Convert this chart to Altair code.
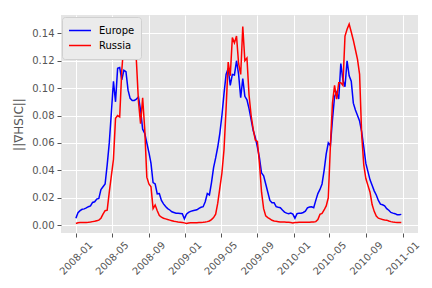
import altair as alt
import pandas as pd

start_date = "2008-01-01"
n_weeks = 157

europe = [
    0.0050, 0.0090, 0.0105, 0.0115, 0.0118, 0.0125, 0.0134, 0.0140, 0.0165, 0.0170,
    0.0190, 0.0195, 0.0260, 0.0280, 0.0300, 0.0440, 0.0600, 0.0820, 0.1050, 0.0900,
    0.1145, 0.1150, 0.1060, 0.1130, 0.1120, 0.0985, 0.0925, 0.0910, 0.0910, 0.0920,
    0.0935, 0.0840, 0.0700, 0.0670, 0.0600, 0.0530, 0.0450, 0.0310, 0.0300, 0.0228,
    0.0230, 0.0180, 0.0155, 0.0135, 0.0120, 0.0110, 0.0097, 0.0092, 0.0087, 0.0087,
    0.0085, 0.0083, 0.0045, 0.0080, 0.0092, 0.0100, 0.0105, 0.0108, 0.0111, 0.0122,
    0.0130, 0.0134, 0.0170, 0.0230, 0.0220, 0.0310, 0.0420, 0.0490, 0.0570, 0.0670,
    0.0800, 0.0960, 0.1100, 0.1144, 0.1020, 0.1100, 0.1096, 0.1200, 0.1100, 0.0930,
    0.1070, 0.0940, 0.0915, 0.0850, 0.0770, 0.0690, 0.0640, 0.0570, 0.0490, 0.0380,
    0.0360, 0.0300, 0.0240, 0.0180, 0.0163, 0.0163, 0.0134, 0.0130, 0.0127, 0.0110,
    0.0095, 0.0087, 0.0083, 0.0087, 0.0080, 0.0050, 0.0083, 0.0087, 0.0087, 0.0092,
    0.0102, 0.0125, 0.0132, 0.0134, 0.0127, 0.0180, 0.0230, 0.0260, 0.0300, 0.0400,
    0.0520, 0.0600, 0.0580, 0.0770, 0.0940, 0.0970, 0.0920, 0.1180, 0.1060, 0.1010,
    0.1200, 0.1090, 0.1050, 0.0890, 0.0840, 0.0800, 0.0760, 0.0680, 0.0570, 0.0450,
    0.0390, 0.0330, 0.0290, 0.0250, 0.0220, 0.0180, 0.0153, 0.0148, 0.0140, 0.0120,
    0.0108, 0.0092, 0.0087, 0.0083, 0.0075, 0.0075, 0.0078,
]

russia = [
    0.0012, 0.0017, 0.0018, 0.0018, 0.0019, 0.0019, 0.0020, 0.0022, 0.0025, 0.0028,
    0.0032, 0.0036, 0.0050, 0.0080, 0.0105, 0.0109, 0.0240, 0.0360, 0.0480, 0.0780,
    0.0800, 0.0790, 0.1130, 0.1330, 0.1270, 0.1235, 0.1240, 0.1270, 0.1350, 0.1200,
    0.0900, 0.0740, 0.0930, 0.0700, 0.0350, 0.0300, 0.0280, 0.0120, 0.0146, 0.0105,
    0.0070, 0.0058, 0.0050, 0.0045, 0.0040, 0.0036, 0.0032, 0.0028, 0.0025, 0.0022,
    0.0020, 0.0018, 0.0016, 0.0012, 0.0015, 0.0016, 0.0017, 0.0017, 0.0017, 0.0018,
    0.0019, 0.0020, 0.0022, 0.0025, 0.0030, 0.0040, 0.0055, 0.0080, 0.0160, 0.0270,
    0.0380, 0.0550, 0.0850, 0.1190, 0.1090, 0.1370, 0.1330, 0.1380, 0.1180, 0.1100,
    0.1450, 0.1200, 0.1220, 0.0950, 0.0800, 0.0700, 0.0620, 0.0610, 0.0450, 0.0240,
    0.0120, 0.0067, 0.0055, 0.0045, 0.0035, 0.0030, 0.0027, 0.0025, 0.0023, 0.0022,
    0.0022, 0.0021, 0.0020, 0.0018, 0.0015, 0.0018, 0.0019, 0.0020, 0.0020, 0.0020,
    0.0020, 0.0020, 0.0021, 0.0022, 0.0023, 0.0025, 0.0040, 0.0078, 0.0085, 0.0110,
    0.0140, 0.0200, 0.0580, 0.0890, 0.1020, 0.0920, 0.1040, 0.1040, 0.1020, 0.1380,
    0.1430, 0.1467, 0.1410, 0.1350, 0.1280, 0.1210, 0.1100, 0.0660, 0.0440, 0.0340,
    0.0290, 0.0240, 0.0150, 0.0100, 0.0065, 0.0050, 0.0045, 0.0040, 0.0037, 0.0036,
    0.0030, 0.0025, 0.0022, 0.0020, 0.0019, 0.0019, 0.0018,
]

series_names = ["Europe", "Russia"]
series_colors = ["#0000ff", "#ff0000"]
y_ticks = [0.0, 0.02, 0.04, 0.06, 0.08, 0.10, 0.12, 0.14]
x_tick_months = [(2008, 1), (2008, 5), (2008, 9), (2009, 1), (2009, 5), (2009, 9),
                 (2010, 1), (2010, 5), (2010, 9), (2011, 1)]

dates = pd.date_range(start_date, periods=n_weeks, freq="7D").strftime("%Y/%m/%d").tolist()
df = pd.concat([
    pd.DataFrame({"date": dates, "value": europe, "region": "Europe"}),
    pd.DataFrame({"date": dates, "value": russia, "region": "Russia"}),
])

font = "DejaVu Sans"
grey = "#555555"

chart = alt.Chart(df).mark_line(strokeWidth=1.5).encode(
    x=alt.X("date:T",
            scale=alt.Scale(domain=[alt.DateTime(year=2007, month=11, date=12),
                                    alt.DateTime(year=2011, month=2, date=22)]),
            axis=alt.Axis(values=[alt.DateTime(year=y, month=m, date=1) for y, m in x_tick_months],
                          format="%Y-%m", title=None, labelAngle=-45, labelAlign="center",
                          labelBaseline="middle", labelPadding=21, labelOverlap=False,
                          labelBound=False, labelFlush=False)),
    y=alt.Y("value:Q",
            scale=alt.Scale(domain=[-0.0058, 0.1534], nice=False, zero=False),
            axis=alt.Axis(values=y_ticks, format=".2f", title="||∇HSIC||",
                          titlePadding=6, titleFontSize=12, titleFontWeight="normal",
                          titleColor=grey, labelPadding=3, labelOverlap=False)),
    color=alt.Color("region:N",
                    scale=alt.Scale(domain=series_names, range=series_colors),
                    legend=alt.Legend(title=None, orient="none", legendX=1, legendY=2,
                                      symbolType="stroke", symbolSize=484,
                                      symbolStrokeWidth=1.5, clipHeight=15,
                                      labelFontSize=10, labelColor="black",
                                      labelFont=font, labelOffset=7,
                                      padding=6, fillColor="#ebebeb",
                                      strokeColor="#d0d0d0", cornerRadius=3,
                                      rowPadding=0)),
).properties(
    width=357, height=218,
    autosize=alt.AutoSizeParams(type="none"),
    padding={"left": 53, "top": 7, "right": 6, "bottom": 55},
    background="white",
).configure_view(
    fill="#e5e5e5", stroke=None,
).configure_axis(
    domain=False, grid=True, gridColor="white", gridWidth=1,
    tickColor=grey, tickSize=4, labelColor=grey, labelFont=font, labelFontSize=10,
    titleFont=font,
)

chart.save("out.html", embed_options={"renderer": "svg", "actions": False})
